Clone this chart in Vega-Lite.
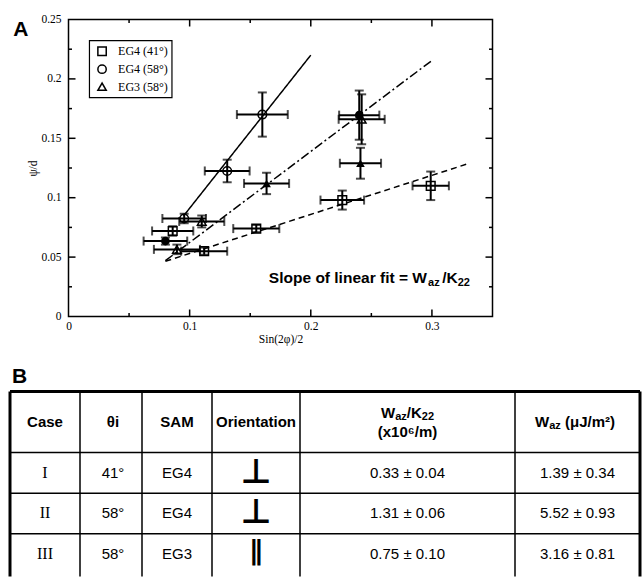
{
  "$schema": "https://vega.github.io/schema/vega-lite/v6.json",
  "padding": {"left": 8.5, "top": 12.5, "right": 0, "bottom": 0},
  "bounds": "flush",
  "spacing": 75,
  "resolve": {"scale": {"shape": "independent", "strokeDash": "independent"}, "legend": {"shape": "independent", "strokeDash": "independent"}},
  "config": {
    "view": {"stroke": null},
    "font": "Liberation Sans",
    "text": {"color": "black"}
  },
  "datasets": {
    "points": [
      {"series": "EG4 (41°)", "kind": "open", "x": 0.086, "y": 0.072, "xerr": 0.017, "yerr": 0.004},
      {"series": "EG4 (41°)", "kind": "open", "x": 0.112, "y": 0.055, "xerr": 0.019, "yerr": 0.003},
      {"series": "EG4 (41°)", "kind": "open", "x": 0.155, "y": 0.074, "xerr": 0.019, "yerr": 0.003},
      {"series": "EG4 (41°)", "kind": "open", "x": 0.226, "y": 0.098, "xerr": 0.018, "yerr": 0.008},
      {"series": "EG4 (41°)", "kind": "open", "x": 0.299, "y": 0.110, "xerr": 0.015, "yerr": 0.012},
      {"series": "EG4 (58°)", "kind": "open", "x": 0.0955, "y": 0.0825, "xerr": 0.018, "yerr": 0.004},
      {"series": "EG4 (58°)", "kind": "open", "x": 0.131, "y": 0.1225, "xerr": 0.0185, "yerr": 0.0095},
      {"series": "EG4 (58°)", "kind": "open", "x": 0.160, "y": 0.170, "xerr": 0.021, "yerr": 0.0186},
      {"series": "EG4 (58°)", "kind": "filled", "x": 0.080, "y": 0.0635, "xerr": 0.018, "yerr": 0.003},
      {"series": "EG4 (58°)", "kind": "filled", "x": 0.240, "y": 0.1695, "xerr": 0.0166, "yerr": 0.0207},
      {"series": "EG3 (58°)", "kind": "open", "x": 0.0895, "y": 0.0565, "xerr": 0.019, "yerr": 0.004},
      {"series": "EG3 (58°)", "kind": "open", "x": 0.110, "y": 0.080, "xerr": 0.0186, "yerr": 0.005},
      {"series": "EG3 (58°)", "kind": "filled", "x": 0.1635, "y": 0.112, "xerr": 0.0186, "yerr": 0.009},
      {"series": "EG3 (58°)", "kind": "open", "x": 0.242, "y": 0.166, "xerr": 0.019, "yerr": 0.021},
      {"series": "EG3 (58°)", "kind": "filled", "x": 0.241, "y": 0.129, "xerr": 0.017, "yerr": 0.013}
    ],
    "fits": [
      {"series": "EG4 (41°)", "x": 0.080, "y": 0.0465},
      {"series": "EG4 (41°)", "x": 0.331, "y": 0.129},
      {"series": "EG4 (58°)", "x": 0.095, "y": 0.0847},
      {"series": "EG4 (58°)", "x": 0.200, "y": 0.220},
      {"series": "EG3 (58°)", "x": 0.080, "y": 0.047},
      {"series": "EG3 (58°)", "x": 0.3007, "y": 0.216}
    ],
    "table": [
      {"row": 1, "case": "I", "theta": "41°", "sam": "EG4", "orient": "⊥", "ratio": "0.33 ± 0.04", "waz": "1.39 ± 0.34"},
      {"row": 2, "case": "II", "theta": "58°", "sam": "EG4", "orient": "⊥", "ratio": "1.31 ± 0.06", "waz": "5.52 ± 0.93"},
      {"row": 3, "case": "III", "theta": "58°", "sam": "EG3", "orient": "∥", "ratio": "0.75 ± 0.10", "waz": "3.16 ± 0.81"}
    ]
  },
  "vconcat": [
    {
      "width": 424,
      "height": 297,
      "view": {"stroke": "black", "strokeWidth": 1.5},
      "data": {"name": "points"},
      "resolve": {"axis": {"x": "independent", "y": "independent"}},
      "layer": [
        {
          "mark": {"type": "point", "opacity": 0},
          "encoding": {
            "x": {"field": "x", "type": "quantitative", "scale": {"domain": [0, 0.35], "nice": false, "zero": false},
              "axis": {"orient": "bottom", "values": [0, 0.1, 0.2, 0.3], "format": "~g", "ticks": false, "labelPadding": 3.5, "domain": false, "grid": false, "labelFlush": false, "labelOverlap": false, "labelFont": "Liberation Serif", "labelFontSize": 11.5, "labelColor": "black", "title": "Sin(2φ)/2", "titleFont": "Liberation Serif", "titleFontSize": 11.5, "titleFontWeight": "normal", "titleColor": "black", "titlePadding": 2}},
            "y": {"field": "y", "type": "quantitative", "scale": {"domain": [0, 0.25], "nice": false, "zero": false},
              "axis": {"orient": "left", "values": [0, 0.05, 0.1, 0.15, 0.2, 0.25], "format": "~g", "ticks": false, "labelPadding": 7.5, "domain": false, "grid": false, "labelFlush": false, "labelOverlap": false, "labelFont": "Liberation Serif", "labelFontSize": 11.5, "labelColor": "black", "title": "ψ/d", "titleFont": "Liberation Serif", "titleFontSize": 11.5, "titleFontWeight": "normal", "titleColor": "black", "titlePadding": 2}}
          }
        },
        {"data": {"values": [{}]}, "mark": {"type": "rule", "color": "black", "strokeWidth": 1.5}, "encoding": {"x": {"datum": 0.05, "type": "quantitative", "axis": null}, "y": {"datum": 0, "type": "quantitative", "axis": null}, "y2": {"datum": 0.00295}}},
        {"data": {"values": [{}]}, "mark": {"type": "rule", "color": "black", "strokeWidth": 1.5}, "encoding": {"x": {"datum": 0.1, "type": "quantitative", "axis": null}, "y": {"datum": 0, "type": "quantitative", "axis": null}, "y2": {"datum": 0.00589}}},
        {"data": {"values": [{}]}, "mark": {"type": "rule", "color": "black", "strokeWidth": 1.5}, "encoding": {"x": {"datum": 0.15, "type": "quantitative", "axis": null}, "y": {"datum": 0, "type": "quantitative", "axis": null}, "y2": {"datum": 0.00295}}},
        {"data": {"values": [{}]}, "mark": {"type": "rule", "color": "black", "strokeWidth": 1.5}, "encoding": {"x": {"datum": 0.2, "type": "quantitative", "axis": null}, "y": {"datum": 0, "type": "quantitative", "axis": null}, "y2": {"datum": 0.00589}}},
        {"data": {"values": [{}]}, "mark": {"type": "rule", "color": "black", "strokeWidth": 1.5}, "encoding": {"x": {"datum": 0.25, "type": "quantitative", "axis": null}, "y": {"datum": 0, "type": "quantitative", "axis": null}, "y2": {"datum": 0.00295}}},
        {"data": {"values": [{}]}, "mark": {"type": "rule", "color": "black", "strokeWidth": 1.5}, "encoding": {"x": {"datum": 0.3, "type": "quantitative", "axis": null}, "y": {"datum": 0, "type": "quantitative", "axis": null}, "y2": {"datum": 0.00589}}},
        {"data": {"values": [{}]}, "mark": {"type": "rule", "color": "black", "strokeWidth": 1.5}, "encoding": {"x": {"datum": 0.05, "type": "quantitative", "axis": null}, "y": {"datum": 0.25, "type": "quantitative", "axis": null}, "y2": {"datum": 0.24705}}},
        {"data": {"values": [{}]}, "mark": {"type": "rule", "color": "black", "strokeWidth": 1.5}, "encoding": {"x": {"datum": 0.1, "type": "quantitative", "axis": null}, "y": {"datum": 0.25, "type": "quantitative", "axis": null}, "y2": {"datum": 0.24411}}},
        {"data": {"values": [{}]}, "mark": {"type": "rule", "color": "black", "strokeWidth": 1.5}, "encoding": {"x": {"datum": 0.15, "type": "quantitative", "axis": null}, "y": {"datum": 0.25, "type": "quantitative", "axis": null}, "y2": {"datum": 0.24705}}},
        {"data": {"values": [{}]}, "mark": {"type": "rule", "color": "black", "strokeWidth": 1.5}, "encoding": {"x": {"datum": 0.2, "type": "quantitative", "axis": null}, "y": {"datum": 0.25, "type": "quantitative", "axis": null}, "y2": {"datum": 0.24411}}},
        {"data": {"values": [{}]}, "mark": {"type": "rule", "color": "black", "strokeWidth": 1.5}, "encoding": {"x": {"datum": 0.25, "type": "quantitative", "axis": null}, "y": {"datum": 0.25, "type": "quantitative", "axis": null}, "y2": {"datum": 0.24705}}},
        {"data": {"values": [{}]}, "mark": {"type": "rule", "color": "black", "strokeWidth": 1.5}, "encoding": {"x": {"datum": 0.3, "type": "quantitative", "axis": null}, "y": {"datum": 0.25, "type": "quantitative", "axis": null}, "y2": {"datum": 0.24411}}},
        {"data": {"values": [{}]}, "mark": {"type": "rule", "color": "black", "strokeWidth": 1.5}, "encoding": {"y": {"datum": 0.025, "type": "quantitative", "axis": null}, "x": {"datum": 0, "type": "quantitative", "axis": null}, "x2": {"datum": 0.00289}}},
        {"data": {"values": [{}]}, "mark": {"type": "rule", "color": "black", "strokeWidth": 1.5}, "encoding": {"y": {"datum": 0.05, "type": "quantitative", "axis": null}, "x": {"datum": 0, "type": "quantitative", "axis": null}, "x2": {"datum": 0.00578}}},
        {"data": {"values": [{}]}, "mark": {"type": "rule", "color": "black", "strokeWidth": 1.5}, "encoding": {"y": {"datum": 0.075, "type": "quantitative", "axis": null}, "x": {"datum": 0, "type": "quantitative", "axis": null}, "x2": {"datum": 0.00289}}},
        {"data": {"values": [{}]}, "mark": {"type": "rule", "color": "black", "strokeWidth": 1.5}, "encoding": {"y": {"datum": 0.1, "type": "quantitative", "axis": null}, "x": {"datum": 0, "type": "quantitative", "axis": null}, "x2": {"datum": 0.00578}}},
        {"data": {"values": [{}]}, "mark": {"type": "rule", "color": "black", "strokeWidth": 1.5}, "encoding": {"y": {"datum": 0.125, "type": "quantitative", "axis": null}, "x": {"datum": 0, "type": "quantitative", "axis": null}, "x2": {"datum": 0.00289}}},
        {"data": {"values": [{}]}, "mark": {"type": "rule", "color": "black", "strokeWidth": 1.5}, "encoding": {"y": {"datum": 0.15, "type": "quantitative", "axis": null}, "x": {"datum": 0, "type": "quantitative", "axis": null}, "x2": {"datum": 0.00578}}},
        {"data": {"values": [{}]}, "mark": {"type": "rule", "color": "black", "strokeWidth": 1.5}, "encoding": {"y": {"datum": 0.175, "type": "quantitative", "axis": null}, "x": {"datum": 0, "type": "quantitative", "axis": null}, "x2": {"datum": 0.00289}}},
        {"data": {"values": [{}]}, "mark": {"type": "rule", "color": "black", "strokeWidth": 1.5}, "encoding": {"y": {"datum": 0.2, "type": "quantitative", "axis": null}, "x": {"datum": 0, "type": "quantitative", "axis": null}, "x2": {"datum": 0.00578}}},
        {"data": {"values": [{}]}, "mark": {"type": "rule", "color": "black", "strokeWidth": 1.5}, "encoding": {"y": {"datum": 0.225, "type": "quantitative", "axis": null}, "x": {"datum": 0, "type": "quantitative", "axis": null}, "x2": {"datum": 0.00289}}},
        {"data": {"values": [{}]}, "mark": {"type": "rule", "color": "black", "strokeWidth": 1.5}, "encoding": {"y": {"datum": 0.025, "type": "quantitative", "axis": null}, "x": {"datum": 0.35, "type": "quantitative", "axis": null}, "x2": {"datum": 0.34711}}},
        {"data": {"values": [{}]}, "mark": {"type": "rule", "color": "black", "strokeWidth": 1.5}, "encoding": {"y": {"datum": 0.05, "type": "quantitative", "axis": null}, "x": {"datum": 0.35, "type": "quantitative", "axis": null}, "x2": {"datum": 0.34422}}},
        {"data": {"values": [{}]}, "mark": {"type": "rule", "color": "black", "strokeWidth": 1.5}, "encoding": {"y": {"datum": 0.075, "type": "quantitative", "axis": null}, "x": {"datum": 0.35, "type": "quantitative", "axis": null}, "x2": {"datum": 0.34711}}},
        {"data": {"values": [{}]}, "mark": {"type": "rule", "color": "black", "strokeWidth": 1.5}, "encoding": {"y": {"datum": 0.1, "type": "quantitative", "axis": null}, "x": {"datum": 0.35, "type": "quantitative", "axis": null}, "x2": {"datum": 0.34422}}},
        {"data": {"values": [{}]}, "mark": {"type": "rule", "color": "black", "strokeWidth": 1.5}, "encoding": {"y": {"datum": 0.125, "type": "quantitative", "axis": null}, "x": {"datum": 0.35, "type": "quantitative", "axis": null}, "x2": {"datum": 0.34711}}},
        {"data": {"values": [{}]}, "mark": {"type": "rule", "color": "black", "strokeWidth": 1.5}, "encoding": {"y": {"datum": 0.15, "type": "quantitative", "axis": null}, "x": {"datum": 0.35, "type": "quantitative", "axis": null}, "x2": {"datum": 0.34422}}},
        {"data": {"values": [{}]}, "mark": {"type": "rule", "color": "black", "strokeWidth": 1.5}, "encoding": {"y": {"datum": 0.175, "type": "quantitative", "axis": null}, "x": {"datum": 0.35, "type": "quantitative", "axis": null}, "x2": {"datum": 0.34711}}},
        {"data": {"values": [{}]}, "mark": {"type": "rule", "color": "black", "strokeWidth": 1.5}, "encoding": {"y": {"datum": 0.2, "type": "quantitative", "axis": null}, "x": {"datum": 0.35, "type": "quantitative", "axis": null}, "x2": {"datum": 0.34422}}},
        {"data": {"values": [{}]}, "mark": {"type": "rule", "color": "black", "strokeWidth": 1.5}, "encoding": {"y": {"datum": 0.225, "type": "quantitative", "axis": null}, "x": {"datum": 0.35, "type": "quantitative", "axis": null}, "x2": {"datum": 0.34711}}},
        {
          "data": {"name": "fits"},
          "mark": {"type": "line", "color": "black", "strokeWidth": 1.5},
          "encoding": {
            "x": {"field": "x", "type": "quantitative", "axis": null},
            "y": {"field": "y", "type": "quantitative", "axis": null},
            "strokeDash": {"field": "series", "type": "nominal", "legend": null,
              "scale": {"domain": ["EG4 (41°)", "EG4 (58°)", "EG3 (58°)"], "range": [[6, 4], [1, 0], [9, 3, 2, 3]]}}
          }
        },
        {
          "mark": {"type": "errorbar", "ticks": true, "size": 9, "thickness": 2, "color": "black"},
          "encoding": {
            "x": {"field": "x", "type": "quantitative", "axis": null},
            "xError": {"field": "xerr"},
            "y": {"field": "y", "type": "quantitative", "axis": null}
          }
        },
        {
          "mark": {"type": "errorbar", "ticks": true, "size": 9, "thickness": 2, "color": "black"},
          "encoding": {
            "y": {"field": "y", "type": "quantitative", "axis": null},
            "yError": {"field": "yerr"},
            "x": {"field": "x", "type": "quantitative", "axis": null}
          }
        },
        {
          "transform": [{"filter": "datum.kind === 'open'"}],
          "mark": {"type": "point", "filled": false, "color": "black", "strokeWidth": 1.5, "size": 75, "opacity": 1},
          "encoding": {
            "x": {"field": "x", "type": "quantitative", "axis": null},
            "y": {"field": "y", "type": "quantitative", "axis": null},
            "shape": {"field": "series", "type": "nominal", "legend": null,
              "scale": {"domain": ["EG4 (41°)", "EG4 (58°)", "EG3 (58°)"], "range": ["square", "circle", "triangle-up"]}}
          }
        },
        {
          "transform": [{"filter": "datum.kind === 'filled'"}],
          "mark": {"type": "point", "filled": true, "color": "black", "size": 75, "opacity": 1},
          "encoding": {
            "x": {"field": "x", "type": "quantitative", "axis": null},
            "y": {"field": "y", "type": "quantitative", "axis": null},
            "shape": {"field": "series", "type": "nominal", "legend": null}
          }
        },
        {
          "data": {"values": [{}]},
          "mark": {"type": "rect", "fill": "white", "stroke": "black", "strokeWidth": 1.2},
          "encoding": {"x": {"datum": 0.0173, "type": "quantitative", "axis": null}, "x2": {"datum": 0.0854}, "y": {"datum": 0.2323, "type": "quantitative", "axis": null}, "y2": {"datum": 0.1843}}
        },
        {
          "data": {"values": [{}]},
          "mark": {"type": "point", "shape": "square", "filled": false, "color": "black", "strokeWidth": 1.5, "size": 70, "opacity": 1},
          "encoding": {"x": {"datum": 0.0277, "type": "quantitative", "axis": null}, "y": {"datum": 0.2233, "type": "quantitative", "axis": null}}
        },
        {
          "data": {"values": [{}]},
          "mark": {"type": "point", "shape": "circle", "filled": false, "color": "black", "strokeWidth": 1.5, "size": 70, "opacity": 1},
          "encoding": {"x": {"datum": 0.0277, "type": "quantitative", "axis": null}, "y": {"datum": 0.2082, "type": "quantitative", "axis": null}}
        },
        {
          "data": {"values": [{}]},
          "mark": {"type": "point", "shape": "triangle-up", "filled": false, "color": "black", "strokeWidth": 1.5, "size": 70, "opacity": 1},
          "encoding": {"x": {"datum": 0.0277, "type": "quantitative", "axis": null}, "y": {"datum": 0.1934, "type": "quantitative", "axis": null}}
        },
        {
          "data": {"values": [{}]},
          "mark": {"type": "text", "text": "EG4 (41°)", "align": "left", "baseline": "middle", "font": "Liberation Serif", "fontSize": 12, "color": "black"},
          "encoding": {"x": {"datum": 0.0409, "type": "quantitative", "axis": null}, "y": {"datum": 0.2233, "type": "quantitative", "axis": null}}
        },
        {
          "data": {"values": [{}]},
          "mark": {"type": "text", "text": "EG4 (58°)", "align": "left", "baseline": "middle", "font": "Liberation Serif", "fontSize": 12, "color": "black"},
          "encoding": {"x": {"datum": 0.0409, "type": "quantitative", "axis": null}, "y": {"datum": 0.2082, "type": "quantitative", "axis": null}}
        },
        {
          "data": {"values": [{}]},
          "mark": {"type": "text", "text": "EG3 (58°)", "align": "left", "baseline": "middle", "font": "Liberation Serif", "fontSize": 12, "color": "black"},
          "encoding": {"x": {"datum": 0.0409, "type": "quantitative", "axis": null}, "y": {"datum": 0.1934, "type": "quantitative", "axis": null}}
        },
        {
          "data": {"values": [{}]},
          "mark": {"type": "text", "text": "A", "align": "left", "baseline": "alphabetic", "font": "Liberation Sans", "fontWeight": "bold", "fontSize": 21, "color": "black"},
          "encoding": {"x": {"datum": -0.0457, "type": "quantitative", "axis": null}, "y": {"datum": 0.2365, "type": "quantitative", "axis": null}}
        },
        {
          "data": {"values": [{}]},
          "mark": {"type": "text", "text": "Slope of linear fit = W", "align": "left", "baseline": "alphabetic", "font": "Liberation Sans", "fontWeight": "bold", "fontSize": 15.5, "color": "black"},
          "encoding": {"x": {"datum": 0.1654, "type": "quantitative", "axis": null}, "y": {"datum": 0.0278, "type": "quantitative", "axis": null}}
        },
        {
          "data": {"values": [{}]},
          "mark": {"type": "text", "text": "az", "align": "left", "baseline": "alphabetic", "dy": 3, "font": "Liberation Sans", "fontWeight": "bold", "fontSize": 11, "color": "black"},
          "encoding": {"x": {"datum": 0.2968, "type": "quantitative", "axis": null}, "y": {"datum": 0.0278, "type": "quantitative", "axis": null}}
        },
        {
          "data": {"values": [{}]},
          "mark": {"type": "text", "text": "/K", "align": "left", "baseline": "alphabetic", "font": "Liberation Sans", "fontWeight": "bold", "fontSize": 15.5, "color": "black"},
          "encoding": {"x": {"datum": 0.3085, "type": "quantitative", "axis": null}, "y": {"datum": 0.0278, "type": "quantitative", "axis": null}}
        },
        {
          "data": {"values": [{}]},
          "mark": {"type": "text", "text": "22", "align": "left", "baseline": "alphabetic", "dy": 3, "font": "Liberation Sans", "fontWeight": "bold", "fontSize": 11, "color": "black"},
          "encoding": {"x": {"datum": 0.3213, "type": "quantitative", "axis": null}, "y": {"datum": 0.0278, "type": "quantitative", "axis": null}}
        }
      ]
    },
    {
      "width": 572,
      "height": 185,
      "view": {"stroke": null},
      "data": {"name": "table"},
      "layer": [
        {
          "mark": {"type": "text", "font": "Liberation Serif", "fontSize": 16, "color": "black", "baseline": "middle"},
          "encoding": {
            "text": {"field": "case"},
            "x": {"datum": 35, "type": "quantitative", "scale": {"domain": [0, 630], "range": [-58.5, 571.5], "nice": false, "zero": false}, "axis": null},
            "y": {"field": "row", "type": "quantitative", "scale": {"domain": [-1, 3.55], "reverse": true, "nice": false, "zero": false}, "axis": null}
          }
        },
        {"data": {"values": [{}]}, "mark": {"type": "rule", "color": "black", "strokeWidth": 3}, "encoding": {"x": {"datum": 0, "type": "quantitative", "axis": null}, "y": {"datum": -1, "type": "quantitative", "axis": null}, "y2": {"datum": 3.55}}},
        {"data": {"values": [{}]}, "mark": {"type": "rule", "color": "black", "strokeWidth": 1.5}, "encoding": {"x": {"datum": 70, "type": "quantitative", "axis": null}, "y": {"datum": -1, "type": "quantitative", "axis": null}, "y2": {"datum": 3.55}}},
        {"data": {"values": [{}]}, "mark": {"type": "rule", "color": "black", "strokeWidth": 1.5}, "encoding": {"x": {"datum": 132, "type": "quantitative", "axis": null}, "y": {"datum": -1, "type": "quantitative", "axis": null}, "y2": {"datum": 3.55}}},
        {"data": {"values": [{}]}, "mark": {"type": "rule", "color": "black", "strokeWidth": 1.5}, "encoding": {"x": {"datum": 202, "type": "quantitative", "axis": null}, "y": {"datum": -1, "type": "quantitative", "axis": null}, "y2": {"datum": 3.55}}},
        {"data": {"values": [{}]}, "mark": {"type": "rule", "color": "black", "strokeWidth": 1.5}, "encoding": {"x": {"datum": 290, "type": "quantitative", "axis": null}, "y": {"datum": -1, "type": "quantitative", "axis": null}, "y2": {"datum": 3.55}}},
        {"data": {"values": [{}]}, "mark": {"type": "rule", "color": "black", "strokeWidth": 1.5}, "encoding": {"x": {"datum": 505, "type": "quantitative", "axis": null}, "y": {"datum": -1, "type": "quantitative", "axis": null}, "y2": {"datum": 3.55}}},
        {"data": {"values": [{}]}, "mark": {"type": "rule", "color": "black", "strokeWidth": 3}, "encoding": {"x": {"datum": 630, "type": "quantitative", "axis": null}, "y": {"datum": -1, "type": "quantitative", "axis": null}, "y2": {"datum": 3.55}}},
        {"data": {"values": [{}]}, "mark": {"type": "rule", "color": "black", "strokeWidth": 3}, "encoding": {"y": {"datum": -1, "type": "quantitative", "axis": null}, "x": {"datum": 0, "type": "quantitative", "axis": null}, "x2": {"datum": 630}}},
        {"data": {"values": [{}]}, "mark": {"type": "rule", "color": "black", "strokeWidth": 1.5}, "encoding": {"y": {"datum": 0.5, "type": "quantitative", "axis": null}, "x": {"datum": 0, "type": "quantitative", "axis": null}, "x2": {"datum": 630}}},
        {"data": {"values": [{}]}, "mark": {"type": "rule", "color": "black", "strokeWidth": 1.5}, "encoding": {"y": {"datum": 1.5, "type": "quantitative", "axis": null}, "x": {"datum": 0, "type": "quantitative", "axis": null}, "x2": {"datum": 630}}},
        {"data": {"values": [{}]}, "mark": {"type": "rule", "color": "black", "strokeWidth": 1.5}, "encoding": {"y": {"datum": 2.5, "type": "quantitative", "axis": null}, "x": {"datum": 0, "type": "quantitative", "axis": null}, "x2": {"datum": 630}}},
        {
          "mark": {"type": "text", "font": "Liberation Sans", "fontSize": 15, "color": "black", "baseline": "middle"},
          "encoding": {"text": {"field": "theta"}, "x": {"datum": 103, "type": "quantitative", "axis": null}, "y": {"field": "row", "type": "quantitative", "axis": null}}
        },
        {
          "mark": {"type": "text", "font": "Liberation Sans", "fontSize": 15, "color": "black", "baseline": "middle"},
          "encoding": {"text": {"field": "sam"}, "x": {"datum": 167, "type": "quantitative", "axis": null}, "y": {"field": "row", "type": "quantitative", "axis": null}}
        },
        {
          "transform": [{"filter": "datum.orient === '⊥'"}],
          "mark": {"type": "text", "font": "DejaVu Sans", "fontSize": 34, "fontWeight": "bold", "color": "black", "baseline": "alphabetic", "dy": 10},
          "encoding": {"text": {"field": "orient"}, "x": {"datum": 246, "type": "quantitative", "axis": null}, "y": {"field": "row", "type": "quantitative", "axis": null}}
        },
        {
          "transform": [{"filter": "datum.orient !== '⊥'"}],
          "mark": {"type": "text", "font": "DejaVu Sans", "fontSize": 27, "fontWeight": "bold", "color": "black", "baseline": "middle", "dy": -2},
          "encoding": {"text": {"field": "orient"}, "x": {"datum": 246, "type": "quantitative", "axis": null}, "y": {"field": "row", "type": "quantitative", "axis": null}}
        },
        {
          "mark": {"type": "text", "font": "Liberation Sans", "fontSize": 15, "color": "black", "baseline": "middle"},
          "encoding": {"text": {"field": "ratio"}, "x": {"datum": 397.5, "type": "quantitative", "axis": null}, "y": {"field": "row", "type": "quantitative", "axis": null}}
        },
        {
          "mark": {"type": "text", "font": "Liberation Sans", "fontSize": 15, "color": "black", "baseline": "middle"},
          "encoding": {"text": {"field": "waz"}, "x": {"datum": 567.5, "type": "quantitative", "axis": null}, "y": {"field": "row", "type": "quantitative", "axis": null}}
        },
        {
          "data": {"values": [{}]},
          "mark": {"type": "text", "text": "Case", "font": "Liberation Sans", "fontWeight": "bold", "fontSize": 15, "color": "black", "baseline": "middle"},
          "encoding": {"x": {"datum": 35, "type": "quantitative", "axis": null}, "y": {"datum": -0.25, "type": "quantitative", "axis": null}}
        },
        {
          "data": {"values": [{}]},
          "mark": {"type": "text", "text": "θi", "font": "Liberation Sans", "fontWeight": "bold", "fontSize": 15, "color": "black", "baseline": "middle"},
          "encoding": {"x": {"datum": 103, "type": "quantitative", "axis": null}, "y": {"datum": -0.25, "type": "quantitative", "axis": null}}
        },
        {
          "data": {"values": [{}]},
          "mark": {"type": "text", "text": "SAM", "font": "Liberation Sans", "fontWeight": "bold", "fontSize": 15, "color": "black", "baseline": "middle"},
          "encoding": {"x": {"datum": 167, "type": "quantitative", "axis": null}, "y": {"datum": -0.25, "type": "quantitative", "axis": null}}
        },
        {
          "data": {"values": [{}]},
          "mark": {"type": "text", "text": "Orientation", "font": "Liberation Sans", "fontWeight": "bold", "fontSize": 15, "color": "black", "baseline": "middle"},
          "encoding": {"x": {"datum": 246, "type": "quantitative", "axis": null}, "y": {"datum": -0.25, "type": "quantitative", "axis": null}}
        },
        {
          "data": {"values": [{}]},
          "mark": {"type": "text", "text": "W", "align": "left", "font": "Liberation Sans", "fontWeight": "bold", "fontSize": 15, "color": "black", "baseline": "middle"},
          "encoding": {"x": {"datum": 371, "type": "quantitative", "axis": null}, "y": {"datum": -0.483, "type": "quantitative", "axis": null}}
        },
        {
          "data": {"values": [{}]},
          "mark": {"type": "text", "text": "az", "align": "left", "dy": 4, "font": "Liberation Sans", "fontWeight": "bold", "fontSize": 11, "color": "black", "baseline": "middle"},
          "encoding": {"x": {"datum": 385.2, "type": "quantitative", "axis": null}, "y": {"datum": -0.483, "type": "quantitative", "axis": null}}
        },
        {
          "data": {"values": [{}]},
          "mark": {"type": "text", "text": "/K", "align": "left", "font": "Liberation Sans", "fontWeight": "bold", "fontSize": 15, "color": "black", "baseline": "middle"},
          "encoding": {"x": {"datum": 396.8, "type": "quantitative", "axis": null}, "y": {"datum": -0.483, "type": "quantitative", "axis": null}}
        },
        {
          "data": {"values": [{}]},
          "mark": {"type": "text", "text": "22", "align": "left", "dy": 4, "font": "Liberation Sans", "fontWeight": "bold", "fontSize": 11, "color": "black", "baseline": "middle"},
          "encoding": {"x": {"datum": 411.8, "type": "quantitative", "axis": null}, "y": {"datum": -0.483, "type": "quantitative", "axis": null}}
        },
        {
          "data": {"values": [{}]},
          "mark": {"type": "text", "text": "(x10⁶/m)", "font": "Liberation Sans", "fontWeight": "bold", "fontSize": 15, "color": "black", "baseline": "middle"},
          "encoding": {"x": {"datum": 397.5, "type": "quantitative", "axis": null}, "y": {"datum": -0.016, "type": "quantitative", "axis": null}}
        },
        {
          "data": {"values": [{}]},
          "mark": {"type": "text", "text": "W", "align": "left", "font": "Liberation Sans", "fontWeight": "bold", "fontSize": 15, "color": "black", "baseline": "middle"},
          "encoding": {"x": {"datum": 525, "type": "quantitative", "axis": null}, "y": {"datum": -0.25, "type": "quantitative", "axis": null}}
        },
        {
          "data": {"values": [{}]},
          "mark": {"type": "text", "text": "az", "align": "left", "dy": 4, "font": "Liberation Sans", "fontWeight": "bold", "fontSize": 11, "color": "black", "baseline": "middle"},
          "encoding": {"x": {"datum": 539.2, "type": "quantitative", "axis": null}, "y": {"datum": -0.25, "type": "quantitative", "axis": null}}
        },
        {
          "data": {"values": [{}]},
          "mark": {"type": "text", "text": "(μJ/m²)", "align": "left", "font": "Liberation Sans", "fontWeight": "bold", "fontSize": 15, "color": "black", "baseline": "middle"},
          "encoding": {"x": {"datum": 555, "type": "quantitative", "axis": null}, "y": {"datum": -0.25, "type": "quantitative", "axis": null}}
        },
        {
          "data": {"values": [{}]},
          "mark": {"type": "text", "text": "B", "align": "left", "baseline": "alphabetic", "font": "Liberation Sans", "fontWeight": "bold", "fontSize": 21, "color": "black"},
          "encoding": {"x": {"datum": 2, "type": "quantitative", "axis": null}, "y": {"datum": -1.221, "type": "quantitative", "axis": null}}
        }
      ]
    }
  ]
}
